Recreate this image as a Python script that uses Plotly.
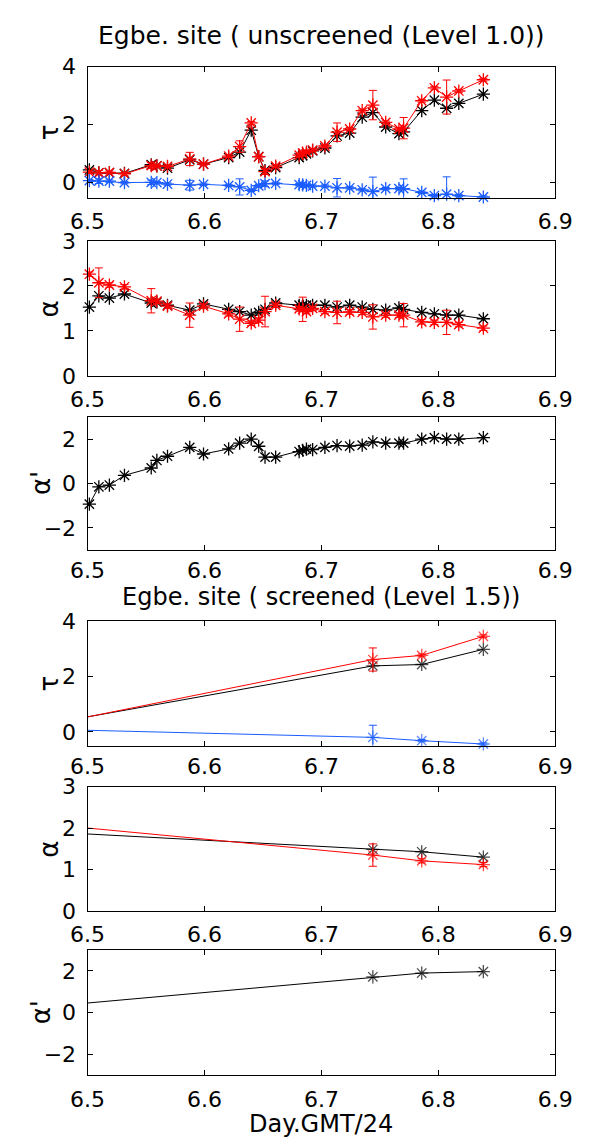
import plotly.graph_objects as go

# ---- Level 1.0 (unscreened) observations -------------------------------
day = [6.5016, 6.5097, 6.5187, 6.5316, 6.5545, 6.5593, 6.5684, 6.5874,
       6.5992, 6.6207, 6.6301, 6.6400, 6.6464, 6.6518, 6.6609, 6.6810,
       6.6840, 6.6872, 6.6925, 6.7030, 6.7134, 6.7242, 6.7349, 6.7440,
       6.7550, 6.7663, 6.7703, 6.7858, 6.7966, 6.8071, 6.8175, 6.8385]

tau_black = [0.42, 0.32, 0.32, 0.30, 0.60, 0.56, 0.48, 0.77, 0.62, 0.85, 1.04,
             1.80, 0.88, 0.40, 0.50, 0.85, 0.92, 0.98, 1.08, 1.18, 1.60, 1.70,
             2.25, 2.41, 1.91, 1.68, 1.74, 2.48, 2.84, 2.56, 2.73, 3.05]
tau_red = [0.34, 0.32, 0.33, 0.28, 0.57, 0.56, 0.54, 0.80, 0.62, 0.90, 1.23,
           2.05, 0.88, 0.36, 0.55, 0.93, 1.00, 1.04, 1.11, 1.25, 1.73, 1.84,
           2.48, 2.67, 2.07, 1.84, 1.87, 2.82, 3.27, 2.95, 3.16, 3.55]
tau_red_err = [0.05, 0.08, 0.05, 0.05, 0.10, 0.05, 0.05, 0.23, 0.05, 0.05, 0.20,
               0.05, 0.05, 0.10, 0.05, 0.05, 0.10, 0.05, 0.05, 0.05, 0.32, 0.05,
               0.05, 0.51, 0.05, 0.05, 0.37, 0.05, 0.05, 0.59, 0.05, 0.05]
tau_blue = [0.05, 0.03, 0.03, -0.02, -0.01, -0.02, -0.07, -0.11, -0.08, -0.12,
            -0.17, -0.29, -0.13, -0.06, -0.05, -0.09, -0.10, -0.12, -0.14, -0.14,
            -0.20, -0.20, -0.27, -0.33, -0.23, -0.23, -0.23, -0.36, -0.47, -0.42,
            -0.47, -0.52]
tau_blue_err = [0.04, 0.08, 0.04, 0.04, 0.08, 0.04, 0.04, 0.17, 0.04, 0.04, 0.28,
                0.04, 0.04, 0.10, 0.04, 0.04, 0.08, 0.04, 0.04, 0.04, 0.32, 0.04,
                0.04, 0.50, 0.04, 0.04, 0.34, 0.04, 0.04, 0.60, 0.04, 0.04]

alpha_black = [1.53, 1.78, 1.73, 1.82, 1.62, 1.64, 1.57, 1.46, 1.60, 1.48, 1.43,
               1.35, 1.41, 1.48, 1.62, 1.57, 1.57, 1.57, 1.57, 1.57, 1.53, 1.57,
               1.53, 1.48, 1.46, 1.51, 1.48, 1.41, 1.38, 1.35, 1.35, 1.27]
alpha_red = [2.26, 2.07, 2.02, 1.98, 1.67, 1.66, 1.55, 1.35, 1.55, 1.38, 1.26,
             1.17, 1.24, 1.43, 1.57, 1.49, 1.48, 1.43, 1.50, 1.43, 1.41, 1.42,
             1.41, 1.31, 1.35, 1.35, 1.35, 1.20, 1.19, 1.19, 1.14, 1.06]
alpha_red_err = [0.05, 0.33, 0.05, 0.05, 0.27, 0.05, 0.05, 0.27, 0.05, 0.05, 0.27,
                 0.05, 0.05, 0.34, 0.05, 0.05, 0.27, 0.05, 0.05, 0.05, 0.25, 0.05,
                 0.05, 0.27, 0.05, 0.05, 0.26, 0.05, 0.05, 0.27, 0.05, 0.05]

alpha_prime = [-0.93, -0.15, -0.07, 0.37, 0.70, 1.04, 1.23, 1.63, 1.33, 1.56, 1.82,
               2.00, 1.68, 1.19, 1.19, 1.44, 1.50, 1.55, 1.53, 1.63, 1.71, 1.69,
               1.73, 1.88, 1.82, 1.82, 1.82, 2.00, 2.07, 2.00, 2.00, 2.07]

# ---- Level 1.5 (screened) observations (first sample precedes 6.5) ------
day_s = [6.4600, 6.7440, 6.7858, 6.8385]
tau_black_s = [0.24, 2.39, 2.44, 2.99]
tau_red_s = [0.20, 2.62, 2.77, 3.46]
tau_red_err_s = [0.0, 0.42, 0.05, 0.05]
tau_blue_s = [0.10, -0.20, -0.32, -0.44]
tau_blue_err_s = [0.0, 0.44, 0.04, 0.04]
alpha_black_s = [1.92, 1.49, 1.43, 1.30]
alpha_red_s = [2.11, 1.35, 1.21, 1.12]
alpha_red_err_s = [0.0, 0.27, 0.05, 0.05]
alpha_prime_s = [0.265, 1.72, 1.90, 1.97]

x_ticks = [6.5, 6.6, 6.7, 6.8, 6.9]

# ---- figure geometry (pixels) ------------------------------------------
W, H = 593, 1148
X0, X1 = 74, 572
FONT = "DejaVu Sans"
BLACK, RED, BLUE = "#000000", "#ff0000", "#1a5cff"

# (top, bottom, y-range, y-ticks, y-title, x-label standoff)
panels = [
    (56, 190, [-0.55, 4], [0, 2, 4], "τ", 4),
    (234, 372, [0, 3], [0, 1, 2, 3], "α", 4),
    (414, 550, [-3, 3], [-2, 0, 2], "α'", 1),
    (623, 750, [-0.5, 4], [0, 2, 4], "τ", 1),
    (792, 919, [0, 3], [0, 1, 2, 3], "α", 4),
    (959, 1087, [-3, 3], [-2, 0, 2], "α'", 4),
]

fig = go.Figure()


def add_series(k, x, y, color, err=None, screened=False):
    sizes = [0] + [11] * (len(x) - 1) if screened else 11
    fig.add_trace(go.Scatter(
        x=x, y=y, mode="lines+markers",
        xaxis=f"x{k}", yaxis=f"y{k}",
        line=dict(color=color, width=1),
        marker=dict(symbol="asterisk-open", size=sizes, color=color,
                    line=dict(color=color, width=1.3)),
        error_y=(dict(type="data", array=err, visible=True, color=color,
                      thickness=1, width=4) if err is not None else None),
        cliponaxis=False, showlegend=False, hoverinfo="skip",
    ))


# unscreened
add_series(1, day, tau_black, BLACK)
add_series(1, day, tau_red, RED, tau_red_err)
add_series(1, day, tau_blue, BLUE, tau_blue_err)
add_series(2, day, alpha_black, BLACK)
add_series(2, day, alpha_red, RED, alpha_red_err)
add_series(3, day, alpha_prime, BLACK)

# screened
add_series(4, day_s, tau_black_s, BLACK, screened=True)
add_series(4, day_s, tau_red_s, RED, tau_red_err_s, screened=True)
add_series(4, day_s, tau_blue_s, BLUE, tau_blue_err_s, screened=True)
add_series(5, day_s, alpha_black_s, BLACK, screened=True)
add_series(5, day_s, alpha_red_s, RED, alpha_red_err_s, screened=True)
add_series(6, day_s, alpha_prime_s, BLACK, screened=True)

axis_common = dict(
    showline=True, linecolor="black", linewidth=1, mirror="ticks",
    ticks="inside", ticklen=5, tickwidth=1, tickcolor="black",
    showgrid=False, zeroline=False,
    tickfont=dict(family=FONT, size=22, color="black"),
)

layout = dict(
    width=W, height=H, margin=dict(l=0, r=0, t=0, b=0),
    paper_bgcolor="white", plot_bgcolor="white",
    font=dict(family=FONT, color="black"),
    annotations=[],
)

for i, (top, bot, yr, yt, ytitle, xsd) in enumerate(panels, start=1):
    layout[f"xaxis{i}"] = dict(
        axis_common, domain=[X0 / W, X1 / W], range=[6.5, 6.9],
        tickvals=x_ticks, ticktext=[f"{v:.1f}" for v in x_ticks],
        anchor=f"y{i}", ticklabelstandoff=xsd,
    )
    layout[f"yaxis{i}"] = dict(
        axis_common, domain=[1 - bot / H, 1 - top / H], range=yr,
        tickvals=yt, anchor=f"x{i}", ticklabelstandoff=6,
    )
    tx = 24 if "'" in ytitle else 33
    layout["annotations"].append(dict(
        text=ytitle, textangle=-90, x=tx / W, y=1 - (top + bot) / 2 / H,
        xref="paper", yref="paper", xanchor="center", yanchor="middle",
        showarrow=False, font=dict(family=FONT, size=26, color="black"),
    ))

for text, yc, fs in [("Egbe. site ( unscreened (Level 1.0))", 24, 25),
                     ("Egbe. site ( screened (Level 1.5))", 598, 24)]:
    layout["annotations"].append(dict(
        text=text, x=(X0 + X1) / 2 / W, y=1 - yc / H, xref="paper", yref="paper",
        xanchor="center", yanchor="middle", showarrow=False,
        font=dict(family=FONT, size=fs, color="black"),
    ))

layout["annotations"].append(dict(
    text="Day.GMT/24", x=(X0 + X1) / 2 / W, y=1 - 1137 / H,
    xref="paper", yref="paper", xanchor="center", yanchor="middle",
    showarrow=False, font=dict(family=FONT, size=24, color="black"),
))

fig.update_layout(**layout)
fig.write_html("out.html")
